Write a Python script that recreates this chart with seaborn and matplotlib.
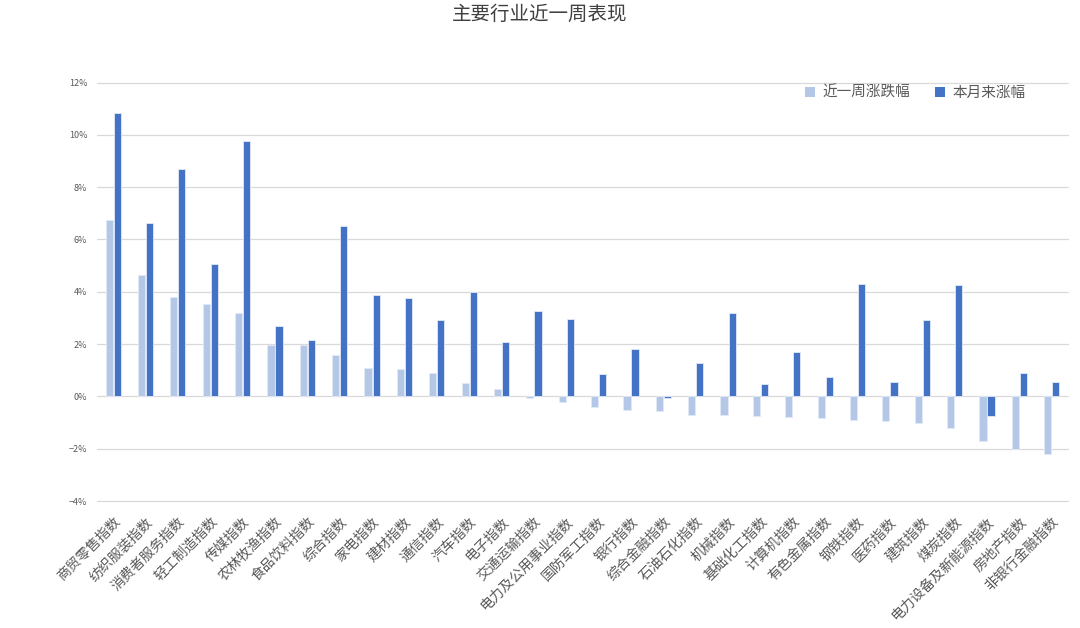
import matplotlib
matplotlib.use("Agg")
import matplotlib.pyplot as plt
import seaborn as sns
import pandas as pd
from matplotlib.ticker import FuncFormatter

categories = ["商贸零售指数", "纺织服装指数", "消费者服务指数", "轻工制造指数", "传媒指数",
              "农林牧渔指数", "食品饮料指数", "综合指数", "家电指数", "建材指数",
              "通信指数", "汽车指数", "电子指数", "交通运输指数", "电力及公用事业指数",
              "国防军工指数", "银行指数", "综合金融指数", "石油石化指数", "机械指数",
              "基础化工指数", "计算机指数", "有色金属指数", "钢铁指数", "医药指数",
              "建筑指数", "煤炭指数", "电力设备及新能源指数", "房地产指数", "非银行金融指数"]
week_change = [6.76, 4.63, 3.81, 3.52, 3.19, 1.98, 1.98, 1.58, 1.09, 1.06,
               0.90, 0.52, 0.27, -0.05, -0.22, -0.42, -0.52, -0.55, -0.70, -0.70,
               -0.76, -0.79, -0.83, -0.89, -0.94, -1.03, -1.22, -1.72, -2.02, -2.21]
month_change = [10.83, 6.64, 8.69, 5.06, 9.76, 2.71, 2.15, 6.52, 3.88, 3.78,
                2.92, 3.99, 2.07, 3.27, 2.95, 0.85, 1.80, -0.06, 1.27, 3.20,
                0.48, 1.68, 0.76, 4.30, 0.55, 2.92, 4.27, -0.76, 0.90, 0.55]
series_names = ["近一周涨跌幅", "本月来涨幅"]
y_ticks = [-4, -2, 0, 2, 4, 6, 8, 10, 12]

df = pd.DataFrame({
    "category": categories * 2,
    "value": week_change + month_change,
    "series": [series_names[0]] * len(categories) + [series_names[1]] * len(categories),
})

sns.set_theme(style="white")
plt.rcParams['font.family'] = ['Noto Sans CJK SC', 'DejaVu Sans']
plt.rcParams['axes.unicode_minus'] = True

fig = plt.figure(figsize=(10.8, 6.28), dpi=100)
ax = fig.add_axes([0.0898, 0.2022, 0.8990, 0.6664])

sns.barplot(data=df, x="category", y="value", hue="series", order=categories,
            hue_order=series_names, palette=["#B4C7E7", "#4472C4"], saturation=1,
            width=0.5, gap=0.12, edgecolor="#E3EAF6", linewidth=0.6, ax=ax,
            errorbar=None)

ax.set_xlim(-0.5, len(categories) - 0.5)
ax.set_ylim(-4, 12)
ax.set_yticks(y_ticks)
ax.yaxis.set_major_formatter(FuncFormatter(lambda v, p: f"{int(v)}%".replace("-", "\u2212")))
ax.grid(axis="y", color="#D9D9D9", linewidth=0.9)
ax.set_axisbelow(True)
for gl in ax.get_ygridlines():
    gl.set_clip_on(False)
for s in ax.spines.values():
    s.set_visible(False)
ax.set_xlabel("")
ax.set_ylabel("")
ax.tick_params(axis="y", labelsize=6.5, colors="#595959", length=0, pad=7)
ax.tick_params(axis="x", labelsize=10, colors="#595959", length=0, pad=10)
ax.set_xticks(range(len(categories)))
ax.set_xticklabels(categories, rotation=45, ha="right", rotation_mode="anchor")
for lbl in ax.get_xticklabels():
    lbl.set_color("#595959")

leg = ax.legend(loc="center right", bbox_to_anchor=(0.97, 0.975), ncol=2, frameon=False,
                fontsize=10.5, handlelength=0.7, handleheight=0.7, handletextpad=0.5,
                columnspacing=1.7)
for t in leg.get_texts():
    t.set_color("#595959")
for h in leg.legend_handles:
    h.set_edgecolor("none")

fig.text(0.5, 0.977, "主要行业近一周表现", ha="center", va="center", fontsize=14, color="#404040")

fig.savefig("out.png", dpi=100, facecolor="white")
